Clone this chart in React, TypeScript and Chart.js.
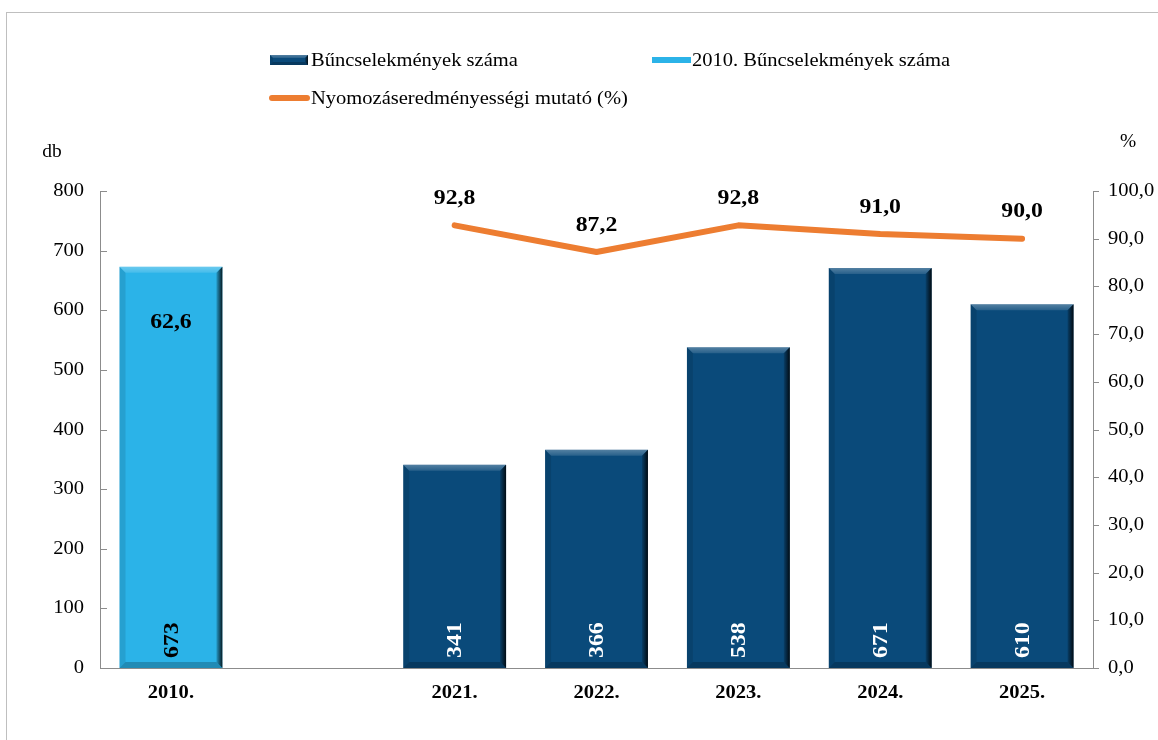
import React, { useEffect, useRef } from "react";
import { Chart, registerables } from "chart.js";

Chart.register(...registerables);

const categories = ["2010.", "", "2021.", "2022.", "2023.", "2024.", "2025."];
const crimeCounts = [null, null, 341, 366, 538, 671, 610];
const crimeCounts2010 = [673, null, null, null, null, null, null];
const clearanceRate = [null, null, 92.8, 87.2, 92.8, 91.0, 90.0];
const clearanceRate2010 = [62.6, null, null, null, null, null, null];

const seriesNames = [
  "Bűncselekmények száma",
  "2010. Bűncselekmények száma",
  "Nyomozáseredményességi mutató (%)",
];
const leftAxisTitle = "db";
const rightAxisTitle = "%";

const DARK = "#0A4A7A";
const LIGHT = "#2BB3E8";
const ORANGE = "#ED7D31";
const AXIS = "#8C8C8C";
const FONT = "'Liberation Serif', 'Times New Roman', serif";
const SX = 1.08;

const fmt1 = (v: number) => v.toFixed(1).replace(".", ",");

// text with a slight horizontal stretch
function sText(
  ctx: CanvasRenderingContext2D,
  text: string,
  x: number,
  y: number,
  align: CanvasTextAlign,
  font: string,
  color: string,
  rotate = 0
) {
  ctx.save();
  ctx.translate(x, y);
  if (rotate) ctx.rotate(rotate);
  ctx.scale(SX, 1);
  ctx.font = font;
  ctx.fillStyle = color;
  ctx.textAlign = align;
  ctx.textBaseline = "middle";
  ctx.fillText(text, 0, 0);
  ctx.restore();
}

function drawBevel(ctx: CanvasRenderingContext2D, left: number, top: number, right: number, bottom: number, b: number) {
  let g = ctx.createLinearGradient(0, top, 0, top + b);
  g.addColorStop(0, "rgba(255,255,255,0.30)");
  g.addColorStop(1, "rgba(255,255,255,0.12)");
  ctx.fillStyle = g;
  ctx.beginPath();
  ctx.moveTo(left, top);
  ctx.lineTo(right, top);
  ctx.lineTo(right - b, top + b);
  ctx.lineTo(left + b, top + b);
  ctx.closePath();
  ctx.fill();
  g = ctx.createLinearGradient(right - b, 0, right, 0);
  g.addColorStop(0, "rgba(0,0,0,0.15)");
  g.addColorStop(1, "rgba(0,0,0,0.85)");
  ctx.fillStyle = g;
  ctx.beginPath();
  ctx.moveTo(right, top);
  ctx.lineTo(right, bottom);
  ctx.lineTo(right - b, bottom - b);
  ctx.lineTo(right - b, top + b);
  ctx.closePath();
  ctx.fill();
  ctx.fillStyle = "rgba(0,0,0,0.10)";
  ctx.beginPath();
  ctx.moveTo(left, top);
  ctx.lineTo(left + b, top + b);
  ctx.lineTo(left + b, bottom - b);
  ctx.lineTo(left, bottom);
  ctx.closePath();
  ctx.fill();
  ctx.fillStyle = "rgba(0,0,0,0.22)";
  ctx.beginPath();
  ctx.moveTo(left, bottom);
  ctx.lineTo(left + b, bottom - b);
  ctx.lineTo(right - b, bottom - b);
  ctx.lineTo(right, bottom);
  ctx.closePath();
  ctx.fill();
}

const decorPlugin = {
  id: "decor",
  beforeDraw(chart: any) {
    const ctx = chart.ctx as CanvasRenderingContext2D;
    ctx.save();
    ctx.fillStyle = "#FFFFFF";
    ctx.fillRect(0, 0, chart.width, chart.height);
    ctx.strokeStyle = "#BFBFBF";
    ctx.lineWidth = 1;
    ctx.strokeRect(6.5, 12.5, chart.width + 20, chart.height + 20);
    ctx.restore();
  },
  afterDatasetsDraw(chart: any) {
    const ctx = chart.ctx as CanvasRenderingContext2D;
    const labelFont = `bold 22px ${FONT}`;
    chart.data.datasets.forEach((ds: any, di: number) => {
      if (ds.type !== "bar") return;
      const meta = chart.getDatasetMeta(di);
      meta.data.forEach((el: any, i: number) => {
        const v = ds.data[i];
        if (v == null) return;
        const w = el.width;
        ctx.save();
        drawBevel(ctx, el.x - w / 2, el.y, el.x + w / 2, el.base, 6);
        ctx.restore();
        sText(ctx, String(v), el.x + 1, el.base - 10, "left", labelFont, ds.labelColor, -Math.PI / 2);
      });
    });
    const lineIdx = chart.data.datasets.findIndex((d: any) => d.type === "line");
    const lmeta = chart.getDatasetMeta(lineIdx);
    lmeta.data.forEach((pt: any, i: number) => {
      const v = clearanceRate[i];
      if (v == null) return;
      sText(ctx, fmt1(v), pt.x, pt.y - 27, "center", labelFont, "#000");
    });
    const barMeta = chart.getDatasetMeta(2);
    clearanceRate2010.forEach((v, i) => {
      if (v == null) return;
      const el: any = barMeta.data[i];
      sText(ctx, fmt1(v), el.x, el.y + 56, "center", labelFont, "#000");
    });
  },
  afterDraw(chart: any) {
    const ctx = chart.ctx as CanvasRenderingContext2D;
    const { x, y, y1 } = chart.scales;
    const tickFont = `19px ${FONT}`;
    ctx.save();
    ctx.strokeStyle = AXIS;
    ctx.lineWidth = 1;
    y.ticks.forEach((t: any) => {
      const py = Math.round(y.getPixelForValue(t.value)) + 0.5;
      ctx.beginPath();
      ctx.moveTo(y.right, py);
      ctx.lineTo(y.right + 7, py);
      ctx.stroke();
      sText(ctx, String(t.label), y.right - 16, py, "right", tickFont, "#000");
    });
    y1.ticks.forEach((t: any) => {
      const py = Math.round(y1.getPixelForValue(t.value)) + 0.5;
      ctx.beginPath();
      ctx.moveTo(y1.left, py);
      ctx.lineTo(y1.left + 6, py);
      ctx.stroke();
      sText(ctx, fmt1(t.value), y1.left + 15, py, "left", tickFont, "#000");
    });
    categories.forEach((c, i) => {
      if (!c) return;
      sText(ctx, c, x.getPixelForValue(i), x.top + 25, "center", `bold 19px ${FONT}`, "#000");
    });
    // axis titles
    sText(ctx, leftAxisTitle, 52, 152, "center", `18px ${FONT}`, "#000");
    sText(ctx, rightAxisTitle, 1128, 142, "center", `18px ${FONT}`, "#000");
    // legend
    const lf = `19px ${FONT}`;
    ctx.fillStyle = DARK;
    ctx.fillRect(270, 55, 38, 10);
    drawBevel(ctx, 270, 55, 308, 65, 3);
    sText(ctx, seriesNames[0], 311, 61, "left", lf, "#000");
    ctx.fillStyle = LIGHT;
    ctx.fillRect(652, 57, 39, 6);
    sText(ctx, seriesNames[1], 692, 61, "left", lf, "#000");
    ctx.strokeStyle = ORANGE;
    ctx.lineWidth = 6;
    ctx.lineCap = "round";
    ctx.beginPath();
    ctx.moveTo(272, 98);
    ctx.lineTo(307, 98);
    ctx.stroke();
    sText(ctx, seriesNames[2], 311, 99, "left", lf, "#000");
    ctx.restore();
  },
};

export default function App() {
  const ref = useRef<HTMLCanvasElement | null>(null);
  useEffect(() => {
    document.body.style.margin = "0";
    const canvas = ref.current;
    if (!canvas) return;
    const hidden = "rgba(0,0,0,0)";
    const chart = new Chart(canvas, {
      type: "bar",
      data: {
        labels: categories,
        datasets: [
          {
            type: "line",
            label: seriesNames[2],
            data: clearanceRate,
            yAxisID: "y1",
            borderColor: ORANGE,
            backgroundColor: ORANGE,
            borderWidth: 6,
            pointRadius: 0,
            borderCapStyle: "round",
            borderJoinStyle: "round",
            tension: 0,
            order: 0,
          } as any,
          {
            type: "bar",
            label: seriesNames[0],
            data: crimeCounts,
            yAxisID: "y",
            backgroundColor: DARK,
            grouped: false,
            categoryPercentage: 1,
            barPercentage: 0.725,
            order: 1,
            labelColor: "#FFFFFF",
          } as any,
          {
            type: "bar",
            label: seriesNames[1],
            data: crimeCounts2010,
            yAxisID: "y",
            backgroundColor: LIGHT,
            grouped: false,
            categoryPercentage: 1,
            barPercentage: 0.725,
            order: 2,
            labelColor: "#000000",
          } as any,
        ],
      },
      options: {
        responsive: false,
        animation: false,
        layout: { padding: { top: 191, bottom: 0, left: 0, right: 0 } },
        plugins: {
          legend: { display: false },
          tooltip: { enabled: false },
        },
        scales: {
          x: {
            grid: { display: false, drawTicks: false },
            border: { display: true, color: AXIS, width: 1 },
            ticks: {
              color: hidden,
              font: { family: FONT, size: 19, weight: "bold" },
              padding: 12,
              autoSkip: false,
              maxRotation: 0,
            },
            afterFit: (s: any) => {
              s.height = 72;
            },
          },
          y: {
            position: "left",
            min: 0,
            max: 800,
            grid: { display: false, drawTicks: false },
            border: { display: true, color: AXIS, width: 1 },
            ticks: {
              stepSize: 100,
              color: hidden,
              font: { family: FONT, size: 19 },
              padding: 16,
            },
            afterFit: (s: any) => {
              s.width = 100;
            },
          },
          y1: {
            position: "right",
            min: 0,
            max: 100,
            grid: { display: false, drawTicks: false },
            border: { display: true, color: AXIS, width: 1 },
            ticks: {
              stepSize: 10,
              color: hidden,
              font: { family: FONT, size: 19 },
              padding: 15,
              callback: (v: any) => fmt1(Number(v)),
            },
            afterFit: (s: any) => {
              s.width = 65;
            },
          },
        },
      } as any,
      plugins: [decorPlugin],
    });
    return () => chart.destroy();
  }, []);
  return (
    <div style={{ position: "relative", width: 1158, height: 740 }}>
      <canvas ref={ref} width={1158} height={740} style={{ display: "block" }} />
    </div>
  );
}
